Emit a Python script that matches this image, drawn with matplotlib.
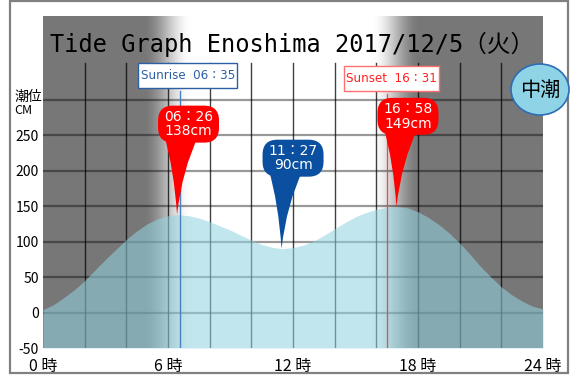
import numpy as np
import matplotlib
matplotlib.use("Agg")
import matplotlib.pyplot as plt
from matplotlib.path import Path
from matplotlib.patches import PathPatch, Rectangle, Ellipse
import matplotlib.transforms as mtransforms

# ---------------- data ----------------
hours = [0, 0.5, 1, 1.5, 2, 2.5, 3, 3.5, 4, 4.5, 5, 5.5, 6, 6.43, 7, 7.5, 8, 8.5,
         9, 9.5, 10, 10.5, 11, 11.45, 12, 12.5, 13, 13.5, 14, 14.5, 15, 15.5, 16,
         16.5, 16.97, 17.5, 18, 18.5, 19, 19.5, 20, 20.5, 21, 21.5, 22, 22.5, 23,
         23.5, 24]
tide_cm = [4, 11, 21, 32, 45, 60, 75, 89, 103, 115, 125, 132, 136.5, 138, 136.5,
           133, 128, 122, 116, 109, 102, 96, 92, 90, 91.5, 95, 101, 109, 118, 127,
           135, 141, 145.5, 148, 149, 147.5, 142, 134, 124, 112, 98, 82, 65, 50,
           36, 25, 16, 9, 5]

extreme_times = [6 + 26 / 60, 11 + 27 / 60, 16 + 58 / 60]
extreme_values = [138, 90, 149]
extreme_labels = ["06：26\n138cm", "11：27\n90cm", "16：58\n149cm"]
extreme_kind = ["high", "low", "high"]

sunrise_h = 6 + 35 / 60
sunset_h = 16 + 31 / 60
sunrise_label = "Sunrise  06：35"
sunset_label = "Sunset  16：31"

y_ticks = [-50, 0, 50, 100, 150, 200, 250]
x_ticks = [0, 6, 12, 18, 24]
x_tick_labels = ["0 時", "6 時", "12 時", "18 時", "24 時"]
title = "Tide Graph Enoshima 2017/12/5（火）"
tide_name = "中潮"

# ---------------- figure ----------------
W, H = 573, 376
fig = plt.figure(figsize=(W / 100, H / 100), dpi=100)
fig.patch.set_facecolor("white")

def fx(px):
    return px / W

def fy(py):
    return (H - py) / H

ax = fig.add_axes([fx(43), fy(348), 500 / W, 332 / H])
YMIN, YMAX = -50, 418
ax.set_xlim(0, 24)
ax.set_ylim(YMIN, YMAX)
for s in ax.spines.values():
    s.set_visible(False)

# background day/night gradient
xs = np.linspace(0, 24, 600)
def smooth(a, b, x):
    t = np.clip((x - a) / (b - a), 0, 1)
    return t * t * (3 - 2 * t)
day = smooth(4.8, 7.1, xs) * (1 - smooth(15.8, 18.1, xs))
g = 0.467 + (1 - 0.467) * day
img = np.repeat(g[None, :], 2, axis=0)
ax.imshow(np.dstack([img, img, img]), extent=[0, 24, YMIN, YMAX], aspect="auto",
          zorder=0, interpolation="bilinear")

# grid
for yv in range(0, 301, 50):
    ax.plot([0, 24], [yv, yv], color="black", alpha=0.4, lw=1.6, zorder=1,
            solid_capstyle="butt")
for xv in range(2, 24, 2):
    ax.plot([xv, xv], [YMIN, 352], color="black", alpha=0.75, lw=1.0, zorder=1)

# tide fill
ax.fill_between(hours, YMIN, tide_cm, color="#92d3e1", alpha=0.56, lw=0, zorder=2)

# sunrise / sunset lines
ax.plot([sunrise_h, sunrise_h], [YMIN, 312], color="#4a80c0", lw=1.0, zorder=3)
ax.plot([sunset_h, sunset_h], [YMIN, 308], color="#ff4040", lw=0.9, zorder=3)

def px_trans(t, v):
    return (mtransforms.Affine2D().scale(1 / 100.0) + fig.dpi_scale_trans +
            mtransforms.ScaledTranslation(t, v, ax.transData))

fam = ["DejaVu Sans", "Noto Sans CJK JP"]
tr = px_trans(sunrise_h, 334)
ax.add_patch(Rectangle((-42, -12.5), 99, 25, transform=tr, facecolor="white",
                       edgecolor="#2d5fa5", lw=1.0, zorder=5, clip_on=False))
ax.text(7.5, 0, sunrise_label, transform=tr, ha="center", va="center",
        color="#2d5fa5", fontsize=8.6, family=fam, zorder=6)
tr = px_trans(sunset_h, 330)
ax.add_patch(Rectangle((-43, -12.5), 95, 25, transform=tr, facecolor="white",
                       edgecolor="#ff7070", lw=1.0, zorder=5, clip_on=False))
ax.text(4.5, 0, sunset_label, transform=tr, ha="center", va="center",
        color="#ff2020", fontsize=8.6, family=fam, zorder=6)

# pins
def body_path():
    L, R, B, T, r = -19, 42, 72, 109, 15
    verts = [(L + r, B), (R - r, B), (R, B), (R, B + r), (R, T - r), (R, T),
             (R - r, T), (L + r, T), (L, T), (L, T - r), (L, B + r), (L, B),
             (L + r, B), (L + r, B)]
    codes = [Path.MOVETO, Path.LINETO, Path.CURVE3, Path.CURVE3, Path.LINETO,
             Path.CURVE3, Path.CURVE3, Path.LINETO, Path.CURVE3, Path.CURVE3,
             Path.LINETO, Path.CURVE3, Path.CURVE3, Path.CLOSEPOLY]
    return Path(verts, codes)

def spike_path():
    verts = [(0, 0), (-3, 45), (-13, 80), (22, 80), (5, 45), (0, 0), (0, 0)]
    codes = [Path.MOVETO, Path.CURVE3, Path.CURVE3, Path.LINETO, Path.CURVE3,
             Path.CURVE3, Path.CLOSEPOLY]
    return Path(verts, codes)

for t, v, lab, kind in zip(extreme_times, extreme_values, extreme_labels, extreme_kind):
    col = "#ff0000" if kind == "high" else "#0a4fa0"
    tr = px_trans(t, v)
    ax.add_patch(PathPatch(body_path(), transform=tr, facecolor=col,
                           edgecolor="none", zorder=7, clip_on=False))
    ax.add_patch(PathPatch(spike_path(), transform=tr, facecolor=col,
                           edgecolor="none", zorder=7, clip_on=False))
    ax.text(11.5, 90.5, lab, transform=tr, ha="center", va="center", color="white",
            fontsize=10, linespacing=1.05, family=fam, zorder=8)

# ticks
ax.set_yticks(y_ticks)
ax.set_yticklabels([str(v) for v in y_ticks], family=["Noto Sans CJK JP"], fontsize=10)
ax.set_xticks(x_ticks)
ax.set_xticklabels(x_tick_labels, family=["Noto Sans CJK JP"], fontsize=11.5)
ax.tick_params(axis="y", length=0, pad=3)
ax.tick_params(axis="x", length=0, pad=7)

# title
fig.text(fx(292.5), fy(44), title, ha="center", va="center", fontsize=17,
         family=["DejaVu Sans Mono", "Noto Sans CJK JP"], color="black")

# axis unit label
fig.text(fx(14), fy(97), "潮位", ha="left", va="center", fontsize=10,
         family=["Noto Sans CJK JP"])
fig.text(fx(14), fy(110), "CM", ha="left", va="center", fontsize=9,
         family=["Noto Sans CJK JP"])

# tide name circle
fig.patches.append(Ellipse((fx(540), fy(89.5)), 58 / W, 51 / H, transform=fig.transFigure,
                           facecolor="#8ed3e6", edgecolor="#2d6db5", lw=1.2, zorder=10))
fig.text(fx(540), fy(90), tide_name, ha="center", va="center", fontsize=14.5,
         family=["Noto Sans CJK JP"], zorder=11)

# outer border
fig.patches.append(Rectangle((fx(9.5), fy(373)), (568 - 9.5) / W, 372 / H,
                             transform=fig.transFigure, fill=False,
                             edgecolor="#808080", lw=1.6, zorder=0))

fig.savefig("out.png", dpi=100)
